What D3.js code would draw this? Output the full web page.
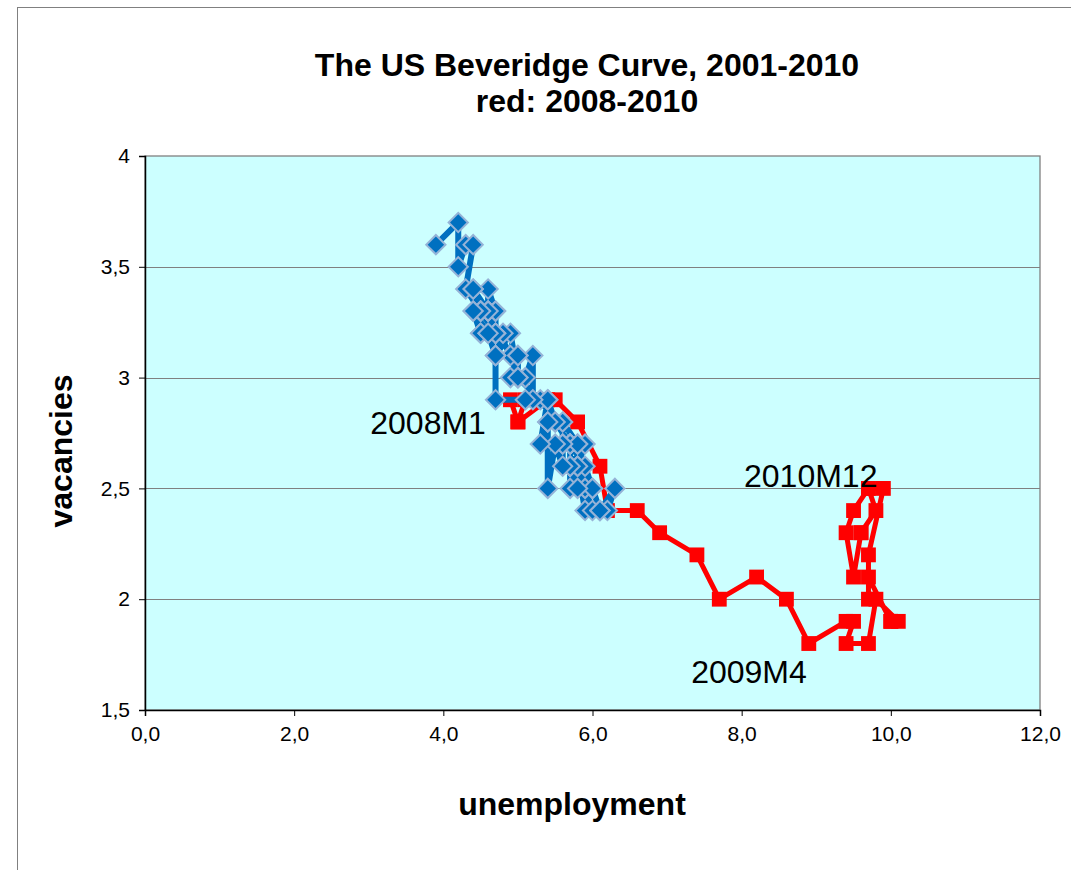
<!DOCTYPE html>
<html><head><meta charset="utf-8">
<script src="https://cdn.jsdelivr.net/npm/d3@7"></script>
<style>body{margin:0;background:#fff}svg{display:block}text{font-family:"Liberation Sans",Arial,sans-serif}</style>
</head><body><svg id="c" width="1071" height="870"></svg>
<script>
const titleLines = ["The US Beveridge Curve, 2001-2010", "red: 2008-2010"];
const xTitle = "unemployment";
const yTitle = "vacancies";
const xTicks = [0, 2, 4, 6, 8, 10, 12];
const xTickLabels = ["0,0","2,0","4,0","6,0","8,0","10,0","12,0"];
const yTicks = [1.5, 2, 2.5, 3, 3.5, 4];
const yTickLabels = ["1,5","2","2,5","3","3,5","4"];
// blue series 2000M12-2007M12: unemployment, vacancies
const blueU = [3.9,
 4.2,4.2,4.3,4.4,4.3,4.5,4.6,4.9,5.0,5.3,5.5,5.7,
 5.7,5.7,5.7,5.9,5.8,5.8,5.8,5.7,5.7,5.7,5.9,6.0,
 5.8,5.9,5.9,6.0,6.1,6.3,6.2,6.1,6.1,6.0,5.8,5.7,
 5.7,5.6,5.8,5.6,5.6,5.6,5.5,5.4,5.4,5.5,5.4,5.4,
 5.3,5.4,5.2,5.2,5.1,5.0,5.0,4.9,5.0,5.0,5.0,4.9,
 4.7,4.8,4.7,4.7,4.6,4.6,4.7,4.7,4.5,4.4,4.5,4.4,
 4.6,4.5,4.4,4.5,4.4,4.6,4.7,4.6,4.7,4.7,4.7,5.1];
const blueV = [3.6,
 3.7,3.5,3.6,3.6,3.4,3.3,3.3,3.1,3.0,2.9,2.8,2.7,
 2.6,2.7,2.6,2.7,2.6,2.7,2.6,2.5,2.6,2.7,2.6,2.5,
 2.6,2.4,2.5,2.4,2.4,2.5,2.4,2.4,2.4,2.5,2.5,2.6,
 2.7,2.7,2.7,2.8,2.7,2.6,2.7,2.5,2.8,2.8,2.9,2.8,
 2.7,2.9,2.9,3.1,3.0,3.0,3.1,3.0,3.1,3.1,3.0,3.2,
 3.1,3.2,3.2,3.3,3.3,3.4,3.3,3.2,3.3,3.3,3.2,3.4,
 3.3,3.3,3.4,3.2,3.3,3.2,3.2,3.2,3.1,3.1,2.9,2.9];
// red series 2008M1-2010M12
const redU = [5.0,4.9,5.1,5.0,5.4,5.5,5.8,6.1,6.2,6.6,6.9,7.4,
 7.7,8.2,8.6,8.9,9.4,9.5,9.4,9.7,9.8,10.1,10.0,10.0,
 9.7,9.7,9.7,9.9,9.7,9.5,9.4,9.5,9.6,9.6,9.8,9.7];
const redV = [2.8,2.9,2.9,2.8,2.9,2.9,2.8,2.6,2.4,2.4,2.3,2.2,
 2.0,2.1,2.0,1.8,1.9,1.9,1.8,1.8,2.0,1.9,1.9,1.9,
 2.1,2.0,2.2,2.5,2.5,2.4,2.3,2.1,2.3,2.3,2.4,2.5];
const pointLabels = [{i:0, text:"2008M1"}, {i:15, text:"2009M4"}, {i:35, text:"2010M12"}];

const svg = d3.select("#c");
const x = d3.scaleLinear().domain([0,12]).range([145,1040]);
const y = d3.scaleLinear().domain([1.5,4]).range([710,156]);

svg.append("rect").attr("x",17.5).attr("y",7.5).attr("width",1100).attr("height",900)
  .attr("fill","#fff").attr("stroke","#808080").attr("stroke-width",1);

svg.append("rect").attr("x",x(0)).attr("y",y(4)).attr("width",x(12)-x(0)).attr("height",y(1.5)-y(4))
  .attr("fill","#CCFFFF").attr("stroke","#808080").attr("stroke-width",1.3);

svg.append("g").selectAll("line").data(yTicks.filter(v=>v>1.5&&v<4)).join("line")
  .attr("x1",x(0)).attr("x2",x(12)).attr("y1",d=>Math.round(y(d))+0.5).attr("y2",d=>Math.round(y(d))+0.5)
  .attr("stroke","#808080").attr("stroke-width",1.2);

const xAxis = d3.axisBottom(x).tickValues(xTicks).tickFormat((d,i)=>xTickLabels[i]).tickSize(6).tickPadding(10);
const yAxis = d3.axisLeft(y).tickValues(yTicks).tickFormat((d,i)=>yTickLabels[i]).tickSize(6).tickPadding(9);
const gx = svg.append("g").attr("transform",`translate(0,${y(1.5)})`).call(xAxis);
const gy = svg.append("g").attr("transform",`translate(${x(0)},0)`).call(yAxis);
[gx,gy].forEach(g=>{
  g.select(".domain").attr("stroke","#000").attr("stroke-width",1.5);
  g.selectAll(".tick line").attr("stroke","#000");
  g.selectAll(".tick text").attr("font-size",21).attr("fill","#000").style("font-family","'Liberation Sans',Arial,sans-serif");
});

const line = d3.line().x(d=>x(d[0])).y(d=>y(d[1]));
const red = redU.map((u,i)=>[u,redV[i]]);
const blue = blueU.map((u,i)=>[u,blueV[i]]);

svg.append("path").datum(red).attr("d",line).attr("fill","none").attr("stroke","#FF0000").attr("stroke-width",5).attr("stroke-linejoin","round");
svg.append("g").selectAll("path").data(red).join("path")
  .attr("d",d3.symbol(d3.symbolSquare,220)()).attr("transform",d=>`translate(${x(d[0])},${y(d[1])})`)
  .attr("fill","#FF0000");

svg.append("path").datum(blue).attr("d",line).attr("fill","none").attr("stroke","#0070C0").attr("stroke-width",6).attr("stroke-linejoin","round");
svg.append("g").selectAll("path").data(blue).join("path")
  .attr("d",d3.symbol(d3.symbolSquare,185)()).attr("transform",d=>`translate(${x(d[0])},${y(d[1])}) rotate(45)`)
  .attr("fill","#0070C0").attr("stroke","#95B3D7").attr("stroke-width",2);

const offs = {"2008M1":[-32,12,"end"], "2009M4":[-2,39,"end"], "2010M12":[9,-1,"end"]};
svg.append("g").selectAll("text").data(pointLabels).join("text")
  .attr("x",d=>x(redU[d.i])+offs[d.text][0]).attr("y",d=>y(redV[d.i])+offs[d.text][1])
  .attr("text-anchor",d=>offs[d.text][2]).attr("font-size",32).attr("fill","#000").text(d=>d.text);

svg.append("g").selectAll("text").data(titleLines).join("text")
  .attr("x",587).attr("y",(d,i)=>76+i*36).attr("text-anchor","middle")
  .attr("font-size",32).attr("font-weight","bold").text(d=>d);

svg.append("text").attr("x",572).attr("y",815).attr("text-anchor","middle")
  .attr("font-size",32).attr("font-weight","bold").text(xTitle);
svg.append("text").attr("transform","translate(72,451) rotate(-90)").attr("text-anchor","middle")
  .attr("font-size",32).attr("font-weight","bold").text(yTitle);
</script></body></html>
